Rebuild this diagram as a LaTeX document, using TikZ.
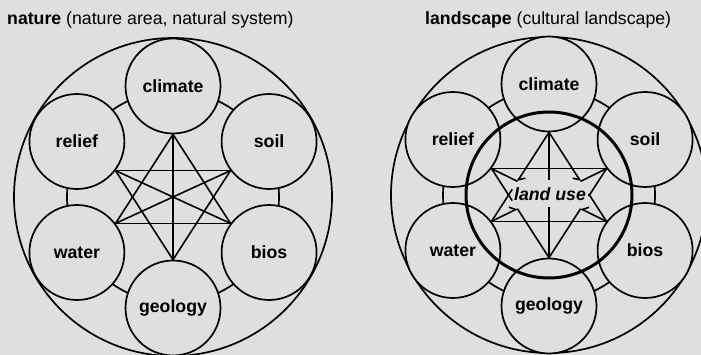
\documentclass[tikz,border=0pt]{standalone}
\usepackage{fontspec}
\setmainfont{Liberation Sans}
\usetikzlibrary{arrows.meta,calc}
\definecolor{bg}{RGB}{223,223,223}
\begin{document}
\begin{tikzpicture}[x=1pt,y=-1pt,
  factor/.style={circle,draw,line width=1.7pt,fill=bg,minimum size=95pt,inner sep=0pt,
    font=\fontsize{17.7}{20}\selectfont\bfseries},
  link/.style={line width=1.6pt},
  ring/.style={line width=1.7pt},
  landring/.style={line width=3pt},
  tipl/.style={-{Straight Barb[length=5pt,width=10pt,harpoon]}},
  tipr/.style={-{Straight Barb[length=5pt,width=10pt,harpoon,swap]}},
  title/.style={anchor=base west,inner sep=0pt,font=\fontsize{17.7}{20}\selectfont}]

\useasboundingbox (0,0) rectangle (701,355);
\fill[bg] (0,0) rectangle (701,355);
\clip (0,0) rectangle (701,355);

% titles
\node[title] (ltitle) at (7,25) {\textbf{nature} (nature area, natural system)};
\node[title] (rtitle) at (425,25) {\textbf{landscape} (cultural landscape)};

% ---------------- left: nature ----------------
\coordinate (lc) at (173,197);
\draw[ring] (lc) circle[radius=159];
\draw[ring] (lc) circle[radius=106];
\node[factor] (lclimate) at (173,86) {climate};
\node[factor] (lsoil) at (269.1,141.5) {soil};
\node[factor] (lbios) at (269.1,252.5) {bios};
\node[factor] (lgeology) at (173,308) {geology};
\node[factor] (lwater) at (76.9,252.5) {water};
\node[factor] (lrelief) at (76.9,141.5) {relief};

\draw[link] (lclimate.south) -- (lgeology.north);
\draw[link] (lrelief.-37) -- (lbios.143);
\draw[link] (lwater.37) -- (lsoil.217);
\draw[link] (lclimate.south) -- (lwater.37);
\draw[link] (lclimate.south) -- (lbios.143);
\draw[link] (lrelief.-37) -- (lsoil.217);
\draw[link] (lwater.37) -- (lbios.143);
\draw[link] (lrelief.-37) -- (lgeology.north);
\draw[link] (lsoil.217) -- (lgeology.north);

% ---------------- right: landscape ----------------
\coordinate (rc) at (549,195);
\draw[ring] (rc) circle[radius=158];
\draw[ring] (rc) circle[radius=106];
\node[factor] (rclimate) at (549,84) {climate};
\node[factor] (rsoil) at (645.1,139.5) {soil};
\node[factor] (rbios) at (645.1,250.5) {bios};
\node[factor] (rgeology) at (549,306) {geology};
\node[factor] (rwater) at (452.9,250.5) {water};
\node[factor] (rrelief) at (452.9,139.5) {relief};
\draw[landring] (rc) circle[radius=83];

\coordinate (rp1) at (rclimate.south);
\coordinate (rp2) at (rsoil.217);
\coordinate (rp3) at (rbios.143);
\coordinate (rp4) at (rgeology.north);
\coordinate (rp5) at (rwater.37);
\coordinate (rp6) at (rrelief.-37);

\coordinate (tl) at ($(rp1)!0.55!(rp5)$);
\coordinate (tr) at ($(rp1)!0.55!(rp3)$);
\coordinate (bl) at ($(rp4)!0.55!(rp6)$);
\coordinate (br) at ($(rp4)!0.55!(rp2)$);

\draw[link] (rp6) -- (rp2);
\draw[link] (rp5) -- (rp3);
\draw[link] (rp1) -- ($(rp1)!0.38!(rp4)$);
\draw[link] (rp4) -- ($(rp4)!0.405!(rp1)$);

\draw[link,tipl] (rp1) -- (tl);
\draw[link,tipr] (rp1) -- (tr);
\draw[link] (rp6) -- (tl);
\draw[link] (rp2) -- (tr);
\draw[link] (rp4) -- (bl);
\draw[link] (rp4) -- (br);
\draw[link,tipl] (rp5) -- (bl);
\draw[link,tipr] (rp3) -- (br);

\draw[link] (rp6) -- ($(rp6)!0.36!(rp4)$);
\draw[link] (rp5) -- ($(rp5)!0.36!(rp1)$);
\draw[link] (rp2) -- ($(rp2)!0.31!(rp4)$);
\draw[link] (rp3) -- ($(rp3)!0.31!(rp1)$);

\node[inner sep=1pt,font=\fontsize{17.7}{20}\selectfont\bfseries\itshape] (landuse) at (550,194) {land use};
\end{tikzpicture}
\end{document}
